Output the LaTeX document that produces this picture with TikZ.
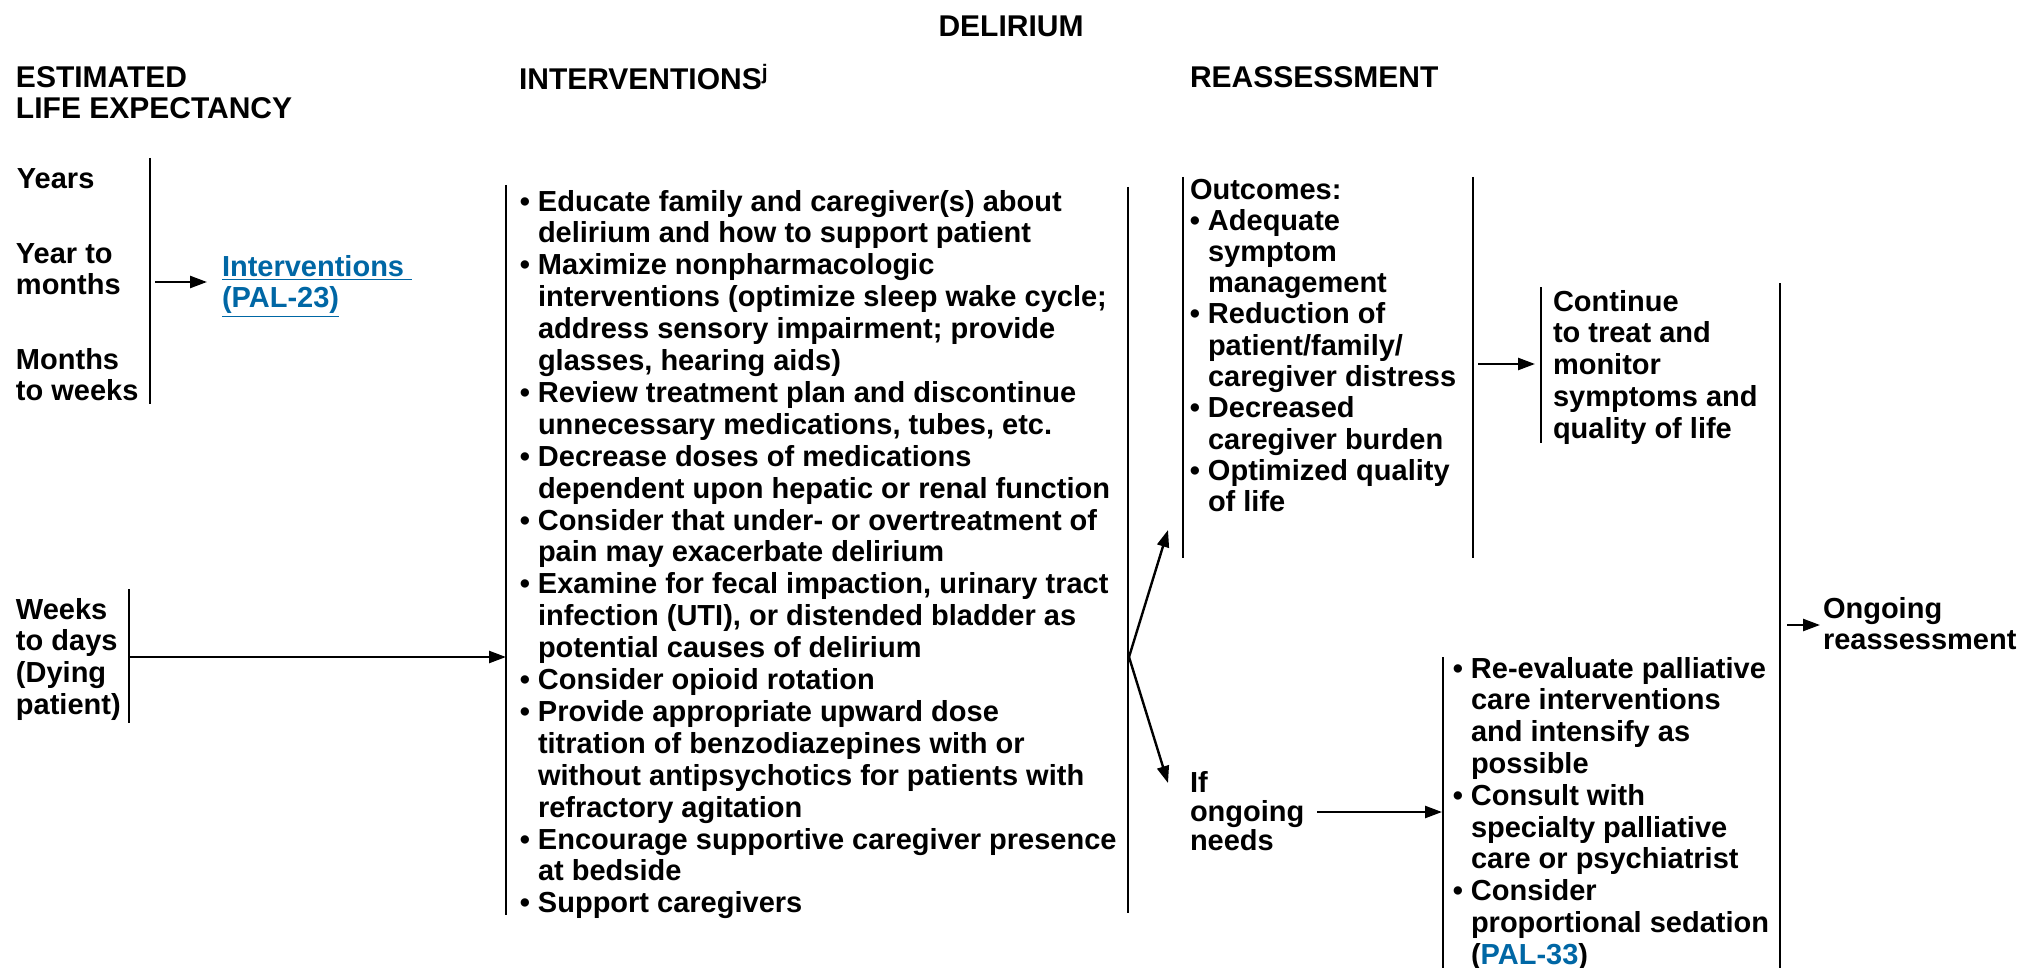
\documentclass[tikz,border=0pt]{standalone}
\usepackage{fontspec}
\setmainfont{Liberation Sans}
\usetikzlibrary{arrows.meta}
\definecolor{linkblue}{RGB}{0,103,165}
\newcommand\st{\rule{0pt}{12pt}}
\newcommand\bul{\llap{\textbullet\ }}
\newcommand\fbody{\bfseries\fontsize{14.5pt}{15.95pt}\selectfont}
\newcommand\fout{\bfseries\fontsize{14.5pt}{15.65pt}\selectfont}
\newcommand\fright{\bfseries\fontsize{14.5pt}{15.9pt}\selectfont}
\newcommand\fhead{\bfseries\fontsize{15pt}{15.5pt}\selectfont}
\begin{document}
\begin{tikzpicture}[x=0.5pt,y=-0.5pt,
  txt/.style={anchor=north west,inner sep=0pt,outer sep=0pt,align=left,yshift=12pt,font=\fbody},
  hdr/.style={txt,font=\fhead},
  brk/.style={line width=1.3pt},
  arr/.style={line width=1.2pt,-{Triangle[length=8.5pt,width=6pt]}}]
\fill[white] (0,0) rectangle (2022,968);
\useasboundingbox (0,0) rectangle (2022,968);

% titles
\node[anchor=base,inner sep=0pt,font=\fhead] (title) at (1011,37) {DELIRIUM};
\node[hdr] (hlife) at (16,88) {\st ESTIMATED\\LIFE EXPECTANCY};
\node[hdr] (hint) at (519,88) {\st INTERVENTIONS\textsuperscript{j}};
\node[hdr] (hre) at (1190,88) {\st REASSESSMENT};

% column 1
\node[txt] (years) at (17,189) {\st Years};
\node[txt] (ytm) at (16,263) {\st Year to\\months};
\node[txt] (mtw) at (16,369) {\st Months\\to weeks};
\node[txt] (wtd) at (16,619) {\st Weeks\\to days\\(Dying\\patient)};
\node[txt,text=linkblue] (link) at (222,276) {\st\underline{Interventions\ }\\\underline{(PAL-23)}};

\coordinate (l1t) at (150,158); \coordinate (l1b) at (150,404);
\draw[brk] (l1t) -- (l1b);
\coordinate (l2t) at (129,589); \coordinate (l2b) at (129,723);
\draw[brk] (l2t) -- (l2b);
\coordinate (a1s) at (155,282); \coordinate (a1e) at (207,282);
\draw[arr] (a1s) -- (a1e);

% interventions
\coordinate (i1t) at (506,185); \coordinate (i1b) at (506,915);
\draw[brk] (i1t) -- (i1b);
\coordinate (i2t) at (1128,187); \coordinate (i2b) at (1128,913);
\draw[brk] (i2t) -- (i2b);
\coordinate (a2s) at (129,657); \coordinate (a2e) at (506,657);
\draw[arr] (a2s) -- (a2e);
\node[txt] (inter) at (538,211) {\st\bul Educate family and caregiver(s) about\\
delirium and how to support patient\\
\bul Maximize nonpharmacologic\\
interventions (optimize sleep wake cycle;\\
address sensory impairment; provide\\
glasses, hearing aids)\\
\bul Review treatment plan and discontinue\\
unnecessary medications, tubes, etc.\\
\bul Decrease doses of medications\\
dependent upon hepatic or renal function\\
\bul Consider that under- or overtreatment of\\
pain may exacerbate delirium\\
\bul Examine for fecal impaction, urinary tract\\
infection (UTI), or distended bladder as\\
potential causes of delirium\\
\bul Consider opioid rotation\\
\bul Provide appropriate upward dose\\
titration of benzodiazepines with or\\
without antipsychotics for patients with\\
refractory agitation\\
\bul Encourage supportive caregiver presence\\
at bedside\\
\bul Support caregivers};

% split arrows
\coordinate (fork) at (1129,657);
\coordinate (upt) at (1168,530);
\coordinate (dnt) at (1168,783);
\draw[arr] (fork) -- (upt);
\draw[arr] (fork) -- (dnt);

% outcomes
\coordinate (o1t) at (1183,177); \coordinate (o1b) at (1183,558);
\draw[brk] (o1t) -- (o1b);
\coordinate (o2t) at (1473,177); \coordinate (o2b) at (1473,558);
\draw[brk] (o2t) -- (o2b);
\node[txt] (outh) at (1190,199) {\st Outcomes:};
\node[txt,font=\fout] (outc) at (1208,230) {\st\bul Adequate\\
symptom\\
management\\
\bul Reduction of\\
patient/family/\\
caregiver distress\\
\bul Decreased\\
caregiver burden\\
\bul Optimized quality\\
of life};

% continue
\coordinate (a3s) at (1478,364); \coordinate (a3e) at (1535,364);
\draw[arr] (a3s) -- (a3e);
\coordinate (c1t) at (1541,287); \coordinate (c1b) at (1541,443);
\draw[brk] (c1t) -- (c1b);
\node[txt,font=\fright] (cont) at (1553,311) {\st Continue\\to treat and\\monitor\\symptoms and\\quality of life};

% big bracket + ongoing
\coordinate (g1t) at (1780,283); \coordinate (g1b) at (1780,968);
\draw[brk] (g1t) -- (g1b);
\coordinate (a4s) at (1787,625); \coordinate (a4e) at (1820,625);
\draw[arr] (a4s) -- (a4e);
\node[txt,font=\fright] (ongo) at (1823,618) {\st Ongoing\\reassessment};

% if ongoing needs
\node[txt,font=\bfseries\fontsize{14.5pt}{14.6pt}\selectfont] (ifneed) at (1190,792) {\st If\\ongoing\\needs};
\coordinate (a5s) at (1317,812); \coordinate (a5e) at (1442,812);
\draw[arr] (a5s) -- (a5e);
\coordinate (r1t) at (1443,657); \coordinate (r1b) at (1443,968);
\draw[brk] (r1t) -- (r1b);
\node[txt,font=\fright] (reeval) at (1471,678) {\st\bul Re-evaluate palliative\\
care interventions\\
and intensify as\\
possible\\
\bul Consult with\\
specialty palliative\\
care or psychiatrist\\
\bul Consider\\
proportional sedation\\
(\textcolor{linkblue}{PAL-33})};
\end{tikzpicture}
\end{document}
